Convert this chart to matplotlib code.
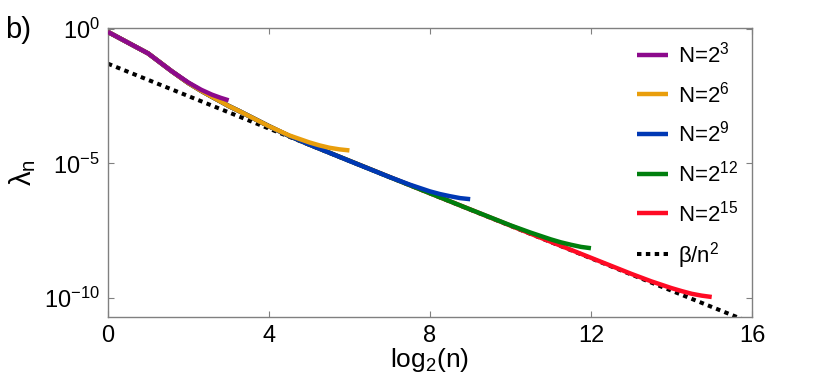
import matplotlib
matplotlib.use("Agg")
import matplotlib.pyplot as plt
import numpy as np

# log10(lambda_n), x = log2(n)
x_n8 = [0, 1, 1.585, 2, 2.32, 2.585, 2.807, 3]
y_n8 = [-0.12, -0.92, -1.58, -2.00, -2.27, -2.45, -2.57, -2.66]

x_n64 = [0, 1, 1.585, 2, 2.32, 2.585, 2.807, 3, 3.25, 3.5, 3.75, 4, 4.25, 4.5,
         5, 5.25, 5.5, 5.75, 6]
y_n64 = [-0.12, -0.92, -1.58, -2.02, -2.31, -2.53, -2.71, -2.87, -3.05, -3.24, -3.43,
         -3.62, -3.79, -3.96, -4.22, -4.33, -4.42, -4.48, -4.52]

x_n512 = [0, 1, 1.585, 2, 2.32, 2.585, 2.807, 3, 3.25, 3.5, 3.75, 4, 4.25, 4.5,
          5, 6, 7, 7.5, 8, 8.25, 8.5, 8.75, 9]
y_n512 = [-0.12, -0.92, -1.58, -2.02, -2.31, -2.53, -2.71, -2.87, -3.05, -3.24, -3.43,
          -3.62, -3.80, -3.98, -4.30, -4.91, -5.51, -5.79, -6.04, -6.14, -6.22, -6.29, -6.33]

x_n4096 = [0, 1, 1.585, 2, 2.32, 2.585, 2.807, 3, 3.25, 3.5, 3.75, 4, 4.25, 4.5,
           5, 7, 9, 10, 10.5, 11, 11.25, 11.5, 11.75, 12]
y_n4096 = [-0.12, -0.92, -1.58, -2.02, -2.31, -2.53, -2.71, -2.87, -3.05, -3.24, -3.43,
           -3.62, -3.80, -3.98, -4.30, -5.51, -6.71, -7.30, -7.57, -7.82, -7.93, -8.02,
           -8.10, -8.15]

x_n32768 = [0, 1, 1.585, 2, 2.32, 2.585, 2.807, 3, 3.25, 3.5, 3.75, 4, 4.25, 4.5,
            5, 8, 11, 13, 13.5, 14, 14.25, 14.5, 14.75, 15]
y_n32768 = [-0.12, -0.92, -1.58, -2.02, -2.31, -2.53, -2.71, -2.87, -3.05, -3.24, -3.43,
            -3.62, -3.80, -3.98, -4.30, -6.11, -7.91, -9.10, -9.38, -9.63, -9.74, -9.84,
            -9.91, -9.96]

# beta/n^2 reference line, end points
x_ref = [0, 16]
y_ref = [-1.30, -10.93]

labels = ["N=2$^{3}$", "N=2$^{6}$", "N=2$^{9}$", "N=2$^{12}$", "N=2$^{15}$", r"$\beta$/n$^{2}$"]
colors = ["#8c0a8c", "#e99e0c", "#0038b4", "#007f0e", "#ff0a24"]

plt.rcParams["font.family"] = ["Liberation Sans", "DejaVu Sans"]
plt.rcParams["mathtext.fontset"] = "custom"
plt.rcParams["mathtext.rm"] = "Liberation Sans"
plt.rcParams["mathtext.it"] = "Liberation Sans"
plt.rcParams["mathtext.default"] = "regular"

fig = plt.figure(figsize=(8.3, 3.8), dpi=100)
ax = fig.add_axes([0.130, 0.166, 0.776, 0.760])

series = [(x_n8, y_n8), (x_n64, y_n64), (x_n512, y_n512), (x_n4096, y_n4096), (x_n32768, y_n32768)]
handles = []
for i, (xs, ys) in enumerate(series):
    h, = ax.plot(xs, 10.0 ** np.array(ys), color=colors[i], lw=3.2,
                 solid_capstyle="butt", solid_joinstyle="round", zorder=10 - i, label=labels[i])
    handles.append(h)

h, = ax.plot(x_ref, 10.0 ** np.array(y_ref), color="black", lw=2.9,
             linestyle=(0, (1.1, 1.1)), dash_capstyle="butt", zorder=2, label=labels[5])
handles.append(h)

ax.set_yscale("log")
ax.set_xlim(0, 16)
ax.set_ylim(10 ** -10.7, 10 ** 0.02)
ax.set_xticks([0, 4, 8, 12, 16])
ax.set_yticks([1e-10, 1e-5, 1e0])
ax.set_yticklabels(["10$^{-10}$", "10$^{-5}$", "10$^{0}$"])
ax.minorticks_off()
ax.tick_params(direction="in", length=4, width=0.8, top=True, right=True,
               labelsize=17, color="#808080", pad=6)
for s in ax.spines.values():
    s.set_color("#808080")
    s.set_linewidth(1.0)

ax.set_xlabel("log$_2$(n)", fontsize=19, labelpad=-1)
ax.set_ylabel(r"$\lambda_n$", fontsize=21, labelpad=4)

ax.legend(handles=handles, loc="upper right", frameon=False, fontsize=16,
          handlelength=1.4, handletextpad=0.45, labelspacing=0.62,
          borderaxespad=0.2)

fig.text(0.006, 0.90, "b)", fontsize=21)

fig.savefig("out.png", dpi=100)
